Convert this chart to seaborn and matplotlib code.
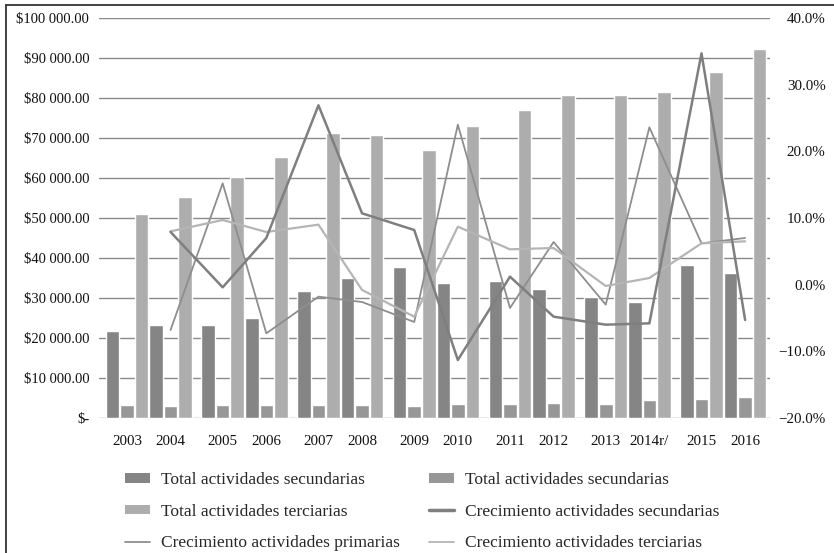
import numpy as np
import pandas as pd
import matplotlib
matplotlib.use("Agg")
import matplotlib.pyplot as plt
import seaborn as sns
from matplotlib.ticker import FuncFormatter, MultipleLocator
from matplotlib.patches import Patch
from matplotlib.lines import Line2D

# ---------------- data ----------------
years = ["2003", "2004", "2005", "2006", "2007", "2008", "2009", "2010",
         "2011", "2012", "2013", "2014r/", "2015", "2016"]
total_secundarias = [21700, 23300, 23300, 25000, 31800, 35000, 37800, 33800,
                     34300, 32300, 30300, 29100, 38300, 36300]
total_primarias = [3300, 3100, 3300, 3300, 3300, 3300, 3100, 3600,
                   3600, 3800, 3600, 4600, 4800, 5300]
total_terciarias = [51000, 55300, 60300, 65300, 71300, 70800, 67000, 73000,
                    77000, 80800, 80800, 81500, 86500, 92200]
crec_secundarias = [np.nan, 7.9, -0.4, 7.0, 26.9, 10.7, 8.2, -11.3,
                    1.2, -4.8, -6.0, -5.8, 34.7, -5.3]
crec_primarias = [np.nan, -6.8, 15.2, -7.3, -1.8, -2.6, -5.6, 24.0,
                  -3.5, 6.4, -3.0, 23.6, 6.2, 7.0]
crec_terciarias = [np.nan, 8.0, 9.7, 7.9, 9.0, -0.8, -4.8, 8.7,
                   5.3, 5.5, -0.2, 1.0, 6.2, 6.5]

legend_labels = ["Total actividades secundarias", "Total actividades secundarias",
                 "Total actividades terciarias", "Crecimiento actividades secundarias",
                 "Crecimiento actividades primarias", "Crecimiento actividades terciarias"]

# ---------------- layout (years come in pairs) ----------------
n = len(years)
pos = [(i // 2) * 2.195 + (i % 2) for i in range(n)]

bar_keys = ["sec", "pri", "ter"]
bar_colors = {"sec": "#858585", "pri": "#979797", "ter": "#adadad"}
line_styles = {"sec": ("#7f7f7f", 1.8), "pri": ("#8e8e8e", 1.3), "ter": ("#b5b5b5", 1.6)}

df_bars = pd.concat([
    pd.DataFrame({"pos": pos, "valor": total_secundarias, "serie": "sec"}),
    pd.DataFrame({"pos": pos, "valor": total_primarias, "serie": "pri"}),
    pd.DataFrame({"pos": pos, "valor": total_terciarias, "serie": "ter"}),
], ignore_index=True)

growth = {"sec": crec_secundarias, "pri": crec_primarias, "ter": crec_terciarias}

# ---------------- plot ----------------
sns.set_style("white")
plt.rcParams["font.family"] = ["Liberation Serif", "DejaVu Serif"]
plt.rcParams["font.size"] = 10.8

W, H = 834, 553
fig = plt.figure(figsize=(W / 100, H / 100), dpi=100)
ax = fig.add_axes([99 / W, 1 - 418 / H, (770 - 99) / W, (418 - 18) / H])

sns.barplot(data=df_bars, x="pos", y="valor", hue="serie", hue_order=bar_keys,
            palette=bar_colors, native_scale=True, width=1.0, gap=0.07,
            saturation=1, errorbar=None, legend=False, ax=ax, zorder=2)

ax.set_ylim(0, 100000)
ax.yaxis.set_major_locator(MultipleLocator(10000))
def money(v, _):
    if abs(v) < 1e-9:
        return "$-"
    return "$" + f"{v:,.2f}".replace(",", " ")
ax.yaxis.set_major_formatter(FuncFormatter(money))
ax.grid(axis="y", color="#8a8a8a", linewidth=1.0, zorder=0)
ax.grid(axis="x", visible=False)
ax.set_axisbelow(True)
ax.set_xlim(pos[0] - 0.64, pos[-1] + 0.57)
ax.set_xticks(pos)
ax.set_xticklabels(years)
ax.set_xlabel("")
ax.set_ylabel("")
for s in ax.spines.values():
    s.set_visible(False)
ax.tick_params(axis="both", length=0, labelsize=10.8, colors="#111111")
ax.tick_params(axis="y", pad=7, labelsize=10.5)
ax.tick_params(axis="x", pad=12)

ax2 = ax.twinx()
for key in ["pri", "ter", "sec"]:
    col, lw = line_styles[key]
    sns.lineplot(x=pos, y=np.array(growth[key]) / 100.0, color=col, linewidth=lw,
                 ax=ax2, legend=False)
ax2.set_ylim(-0.2, 0.4)
ax2.yaxis.set_major_locator(MultipleLocator(0.1))
ax2.yaxis.set_major_formatter(FuncFormatter(
    lambda v, _: f"{v * 100:.1f}%".replace("-", "\u2212")))
for s in ax2.spines.values():
    s.set_visible(False)
ax2.tick_params(axis="y", length=0, labelsize=10.8, pad=40, colors="#111111")
for lbl in ax2.get_yticklabels():
    lbl.set_horizontalalignment("right")
ax2.grid(False)
ax2.set_ylabel("")

# legend (row-wise order, filled column-wise)
h_sec = Patch(facecolor=bar_colors["sec"], edgecolor="none")
h_pri = Patch(facecolor=bar_colors["pri"], edgecolor="none")
h_ter = Patch(facecolor=bar_colors["ter"], edgecolor="none")
l_sec = Line2D([], [], color=line_styles["sec"][0], linewidth=2.5)
l_pri = Line2D([], [], color=line_styles["pri"][0], linewidth=1.3)
l_ter = Line2D([], [], color=line_styles["ter"][0], linewidth=1.3)
handles = [h_sec, h_ter, l_pri, h_pri, l_sec, l_ter]
labels = [legend_labels[0], legend_labels[2], legend_labels[4],
          legend_labels[1], legend_labels[3], legend_labels[5]]
fig.legend(handles, labels, ncol=2, loc="upper left",
           bbox_to_anchor=(125 / W, 1 - 472 / H), frameon=False,
           fontsize=12.5, handlelength=1.45, handleheight=0.5,
           handletextpad=0.6, labelspacing=0.9, columnspacing=1.7,
           borderpad=0, borderaxespad=0)

# outer frame (left and top edges visible)
fig.add_artist(Line2D([5.5 / W, 5.5 / W], [0, 1 - 5 / H], transform=fig.transFigure,
                      color="#333333", linewidth=1.3))
fig.add_artist(Line2D([5.5 / W, 1], [1 - 5 / H, 1 - 5 / H], transform=fig.transFigure,
                      color="#333333", linewidth=1.3))

fig.savefig("out.png", dpi=100)
